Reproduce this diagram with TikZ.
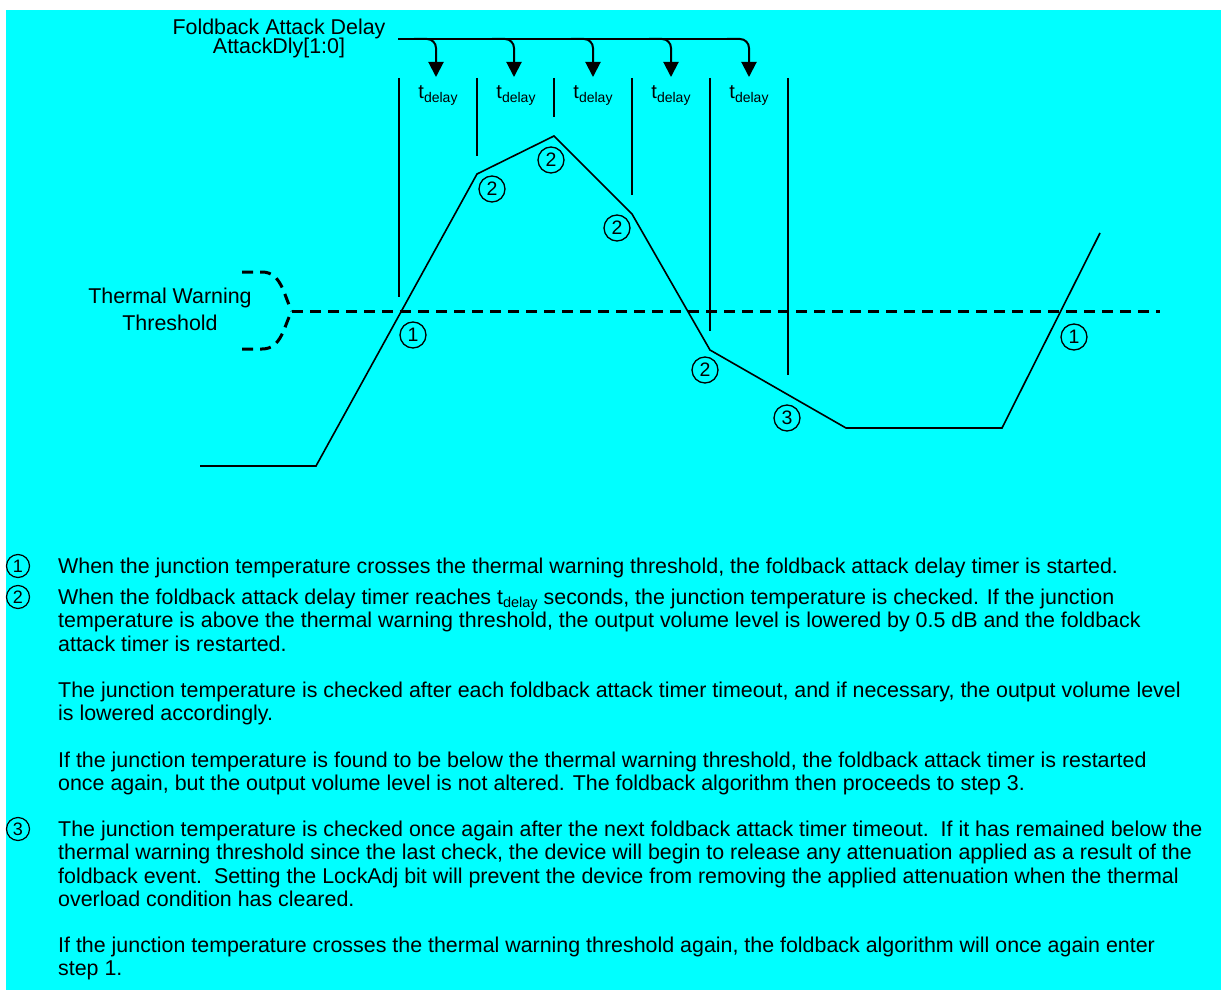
\documentclass[tikz,border=0pt]{standalone}
\usepackage{fontspec}
\setmainfont{Liberation Sans}
\usetikzlibrary{arrows.meta}
\definecolor{bg}{RGB}{0,255,255}
\newcommand{\tdl}{t\raisebox{-4pt}{\fontsize{14}{14}\selectfont delay}}
\newcommand{\tdp}{t\raisebox{-3.5pt}{\fontsize{14.5}{14.5}\selectfont delay}}
\tikzset{
 curve/.style={line width=1.6pt, line join=miter},
 bar/.style={line width=1.4pt},
 bus/.style={line width=2.2pt},
 tap/.style={line width=2pt, rounded corners=9pt, -{Triangle[width=15pt,length=15pt]}},
 thr/.style={line width=3pt, dash pattern=on 11pt off 7pt},
 num/.style={circle, draw, line width=1.3pt, minimum size=26pt, inner sep=0pt, font=\fontsize{19.5}{19.5}\selectfont},
 tnum/.style={circle, draw, line width=1.2pt, minimum size=23pt, inner sep=0pt, font=\fontsize{18}{18}\selectfont},
 lbl/.style={font=\fontsize{21.4}{21.4}\selectfont, inner sep=0pt},
 tlbl/.style={font=\fontsize{20}{20}\selectfont, inner sep=0pt},
 para/.style={font=\fontsize{21.4}{21.4}\selectfont, anchor=base west, inner sep=0pt},
}
\begin{document}
\begin{tikzpicture}[x=1pt,y=-1pt]
\useasboundingbox (0,0) rectangle (1221,990);
\fill[white] (0,0) rectangle (1221,990);
\fill[bg] (6,10) rectangle (1221,990);

% top label and bus
\node[lbl] (fad) at (279,29) {Foldback Attack Delay};
\node[lbl] (adly) at (279,48) {AttackDly[1:0]};
\coordinate (bs) at (398,39);
\coordinate (be) at (735,39);
\draw[bus] (bs) -- (be);
\foreach \i/\x in {1/436,2/514,3/593,4/671,5/749}{
  \coordinate (tap\i) at (\x-22,39);
  \coordinate (tip\i) at (\x,77);
  \draw[tap] (tap\i) -| (tip\i);
}
% interval bars
\foreach \i/\x/\yb in {0/399/297,1/477/156,2/554/117,3/632/195,4/710/331,5/788/375}{
  \coordinate (bt\i) at (\x,78);
  \coordinate (bb\i) at (\x,\yb);
  \draw[bar] (bt\i) -- (bb\i);
}
\foreach \i/\x in {1/438,2/516,3/593,4/671,5/749}{
  \node[tlbl] (td\i) at (\x,95) {\tdl};
}

% threshold
\node[lbl] (tw1) at (170,298) {Thermal Warning};
\node[lbl] (tw2) at (170,323) {Threshold};
\coordinate (tip) at (292,311);
\coordinate (tend) at (1160,311);
\draw[thr] (242,272) -- (262,272) .. controls (282,272) and (284,297) .. (tip);
\draw[thr] (242,349) -- (262,349) .. controls (282,349) and (284,325) .. (tip);
\draw[thr] (tip) -- (tend);

% temperature curve
\draw[curve] (200,466) -- (316,466) -- (477,174) -- (554,136) -- (632,214) -- (710,350) -- (846,428) -- (1002,428) -- (1100,233);

% circled markers on the curve
\node[num] (m1) at (413,335) {1};
\node[num] (m2) at (492,189) {2};
\node[num] (m3) at (551,160) {2};
\node[num] (m4) at (617,228) {2};
\node[num] (m5) at (705,370) {2};
\node[num] (m6) at (787,418) {3};
\node[num] (m7) at (1074,337) {1};

% explanation text
\node[tnum] (c1) at (18,566) {1};
\node[tnum] (c2) at (18,597) {2};
\node[tnum] (c3) at (18,829) {3};
\node[para] (l1) at (58,573) {When the junction temperature crosses the thermal warning threshold, the foldback attack delay timer is started.};
\node[para] (l2) at (58,604) {When the foldback attack delay timer reaches \tdp{} seconds, the junction temperature is checked. If the junction};
\node[para] (l3) at (58,627) {temperature is above the thermal warning threshold, the output volume level is lowered by 0.5 dB and the foldback};
\node[para] (l4) at (58,651) {attack timer is restarted.};
\node[para] (l5) at (58,697) {The junction temperature is checked after each foldback attack timer timeout, and if necessary, the output volume level};
\node[para] (l6) at (58,720) {is lowered accordingly.};
\node[para] (l7) at (58,767) {If the junction temperature is found to be below the thermal warning threshold, the foldback attack timer is restarted};
\node[para] (l8) at (58,790) {once again, but the output volume level is not altered. The foldback algorithm then proceeds to step 3.};
\node[para] (l9) at (58,836) {The junction temperature is checked once again after the next foldback attack timer timeout.\ \ If it has remained below the};
\node[para] (l10) at (58,859) {thermal warning threshold since the last check, the device will begin to release any attenuation applied as a result of the};
\node[para] (l11) at (58,883) {foldback event.\ \ Setting the LockAdj bit will prevent the device from removing the applied attenuation when the thermal};
\node[para] (l12) at (58,906) {overload condition has cleared.};
\node[para] (l13) at (58,952) {If the junction temperature crosses the thermal warning threshold again, the foldback algorithm will once again enter};
\node[para] (l14) at (58,975) {step 1.};
\end{tikzpicture}
\end{document}
